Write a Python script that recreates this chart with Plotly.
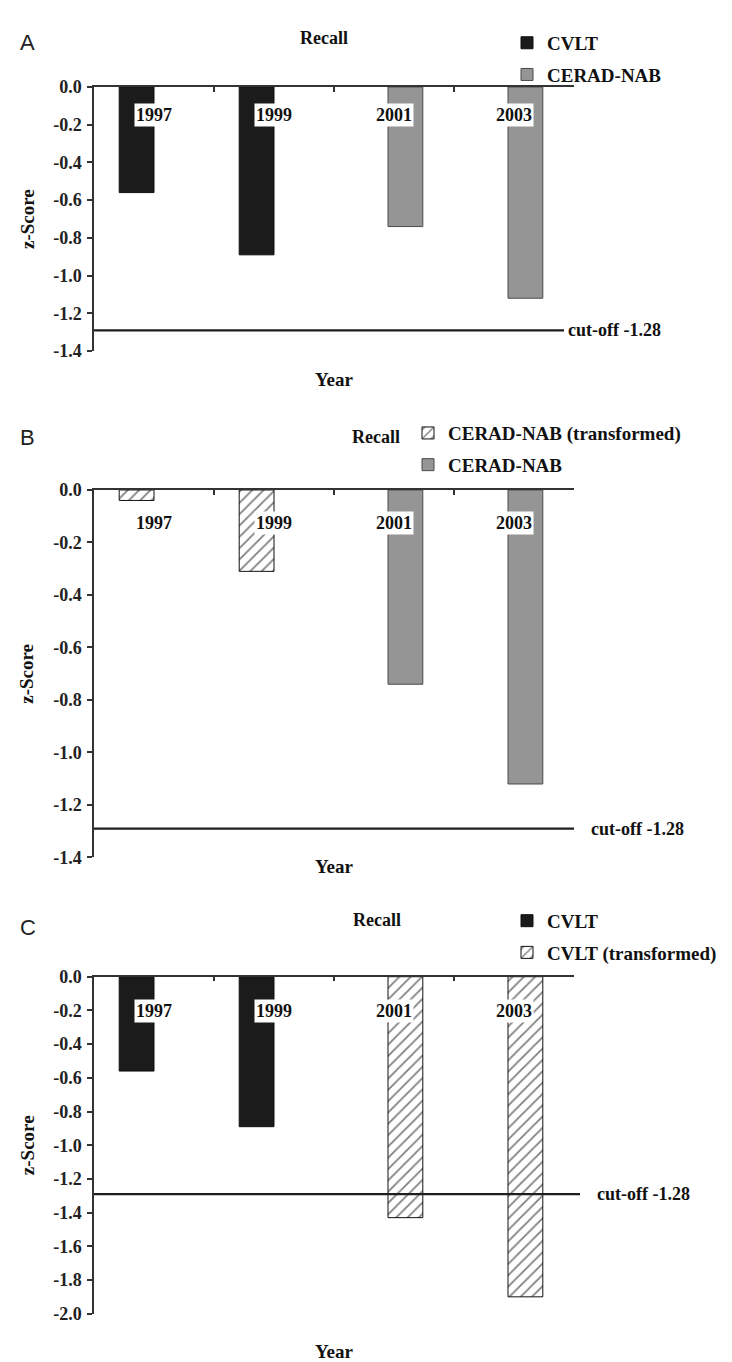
import plotly.graph_objects as go

# ---------------- data ----------------
years = ["1997", "1999", "2001", "2003"]
y_ticks_ab = [0.0, -0.2, -0.4, -0.6, -0.8, -1.0, -1.2, -1.4]
y_ticktext_ab = ["0.0", "-0.2", "-0.4", "-0.6", "-0.8", "-1.0", "-1.2", "-1.4"]
y_ticks_c = [0.0, -0.2, -0.4, -0.6, -0.8, -1.0, -1.2, -1.4, -1.6, -1.8, -2.0]
y_ticktext_c = ["0.0", "-0.2", "-0.4", "-0.6", "-0.8", "-1.0", "-1.2", "-1.4", "-1.6", "-1.8", "-2.0"]

a_cvlt = [-0.56, -0.89, None, None]
a_cerad = [None, None, -0.74, -1.12]
b_cerad_trans = [-0.04, -0.31, None, None]
b_cerad = [None, None, -0.74, -1.12]
c_cvlt = [-0.56, -0.89, None, None]
c_cvlt_trans = [None, None, -1.43, -1.90]

cutoff_value = -1.29
cutoff_label = "cut-off -1.28"
panel_letters = ["A", "B", "C"]
panel_title = "Recall"
x_title = "Year"
y_title = "z-Score"

# ---------------- layout helpers ----------------
W, H = 732, 1362
SERIF = "Liberation Serif"
SANS = "Liberation Sans"


def px_x(p):
    return p / W


def px_y(p):
    return 1 - p / H


xs = list(range(len(years)))
BAR_W = 0.29
OFF1 = -0.29
OFF2 = -0.05

fig = go.Figure()

BLACK = "#1b1b1b"
GRAY = "#959595"
GRAY_LINE = "#4a4a4a"

hatch = dict(shape="/", fgcolor="#000000", bgcolor="white", size=8, solidity=0.22)


def add_bar(vals, name, panel, legend, first, style):
    xa = "x" if panel == 1 else f"x{panel}"
    ya = "y" if panel == 1 else f"y{panel}"
    kw = dict(x=xs, y=vals, name=name, xaxis=xa, yaxis=ya, legend=legend,
              legendgroup=f"{legend}_{name}",
              offset=OFF1 if first else OFF2, width=BAR_W)
    if style == "black":
        kw["marker"] = dict(color=BLACK, line=dict(color="#111111", width=1))
    elif style == "gray":
        kw["marker"] = dict(color=GRAY, line=dict(color=GRAY_LINE, width=1))
    else:
        kw["marker"] = dict(color="white", pattern=hatch, line=dict(color="#111111", width=1))
    fig.add_trace(go.Bar(**kw))


add_bar(a_cvlt, "CVLT", 1, "legend", True, "black")
add_bar(a_cerad, "CERAD-NAB", 1, "legend", False, "gray")
add_bar(b_cerad_trans, "CERAD-NAB (transformed)", 2, "legend2", True, "hatch")
add_bar(b_cerad, "CERAD-NAB", 2, "legend2", False, "gray")
add_bar(c_cvlt, "CVLT", 3, "legend3", True, "black")
add_bar(c_cvlt_trans, "CVLT (transformed)", 3, "legend3", False, "hatch")

# panel geometry in pixels: (x_left, x_right, y_top, y_bottom)
panels = [
    (86, 566, 70, 338, [-1.4, 0], y_ticks_ab, y_ticktext_ab),
    (86, 566, 479, 852, [-1.4, 0], y_ticks_ab, y_ticktext_ab),
    (86, 566, 973, 1315, [-2.0, 0], y_ticks_c, y_ticktext_c),
]

tickfont = dict(family=SERIF, size=18, color="#222222", weight="bold")
layout_axes = {}
for i, (xl, xr, yt, yb, rng, tv, tt) in enumerate(panels, start=1):
    sx = "" if i == 1 else str(i)
    layout_axes[f"xaxis{sx}"] = dict(
        domain=[px_x(xl), px_x(xr)], range=[-0.5, 3.5], anchor=f"y{sx}",
        side="top", showline=True, linecolor="#333333", linewidth=1.5,
        ticks="inside", ticklen=5, tickwidth=1.5, tickcolor="#333333",
        tickvals=[0.5, 1.5, 2.5, 3.5], showticklabels=False,
        showgrid=False, zeroline=False, fixedrange=True,
    )
    layout_axes[f"yaxis{sx}"] = dict(
        domain=[px_y(yb), px_y(yt)], range=rng, anchor=f"x{sx}",
        showline=True, linecolor="#333333", linewidth=1.5,
        ticks="outside", ticklen=5, tickwidth=1.5, tickcolor="#333333",
        tickvals=tv, ticktext=tt, tickfont=tickfont, ticklabelstandoff=2,
        showgrid=False, zeroline=False, fixedrange=True,
    )

fig.update_layout(**layout_axes)

annotations = []
shapes = []
label_shift = [28, 33, 34]
title_pos = [(316, 20), (368, 425), (369, 915)]
letter_pos = [(10, 25), (10, 426), (10, 923)]
year_title_y = [367, 861, 1353]
cut_line_end = [556, 566, 572]
cut_label_x = [558, 581, 587]

for i, (xl, xr, yt, yb, rng, tv, tt) in enumerate(panels, start=1):
    sx = "" if i == 1 else str(i)
    xa = f"x{sx}"
    ya = f"y{sx}"
    # year labels with white boxes
    for k, yr in enumerate(years):
        annotations.append(dict(
            x=xs[k], y=0, xref=xa, yref=ya, text=yr, showarrow=False,
            yshift=-label_shift[i - 1], bgcolor="white", borderpad=1,
            font=dict(family=SERIF, size=18, color="#111111", weight="bold"),
        ))
    # cutoff line
    shapes.append(dict(
        type="line", xref="paper", yref=ya,
        x0=px_x(xl), x1=px_x(cut_line_end[i - 1]),
        y0=cutoff_value, y1=cutoff_value,
        line=dict(color="#1e1e1e", width=2.2),
    ))
    annotations.append(dict(
        x=px_x(cut_label_x[i - 1]), y=cutoff_value, xref="paper", yref=ya,
        xanchor="left", yanchor="middle", text=cutoff_label, showarrow=False,
        font=dict(family=SERIF, size=18, color="#111111", weight="bold"),
    ))
    # panel title
    tx, ty = title_pos[i - 1]
    annotations.append(dict(
        x=px_x(tx), y=px_y(ty), xref="paper", yref="paper", text=panel_title,
        showarrow=False, xanchor="center", yanchor="middle",
        font=dict(family=SERIF, size=18, color="#111111", weight="bold"),
    ))
    # panel letter
    lx, ly = letter_pos[i - 1]
    annotations.append(dict(
        x=px_x(lx), y=px_y(ly), xref="paper", yref="paper", text=panel_letters[i - 1],
        showarrow=False, xanchor="left", yanchor="middle",
        font=dict(family=SANS, size=22, color="#222222"),
    ))
    # axis titles
    annotations.append(dict(
        x=px_x(326), y=px_y(year_title_y[i - 1]), xref="paper", yref="paper",
        text=x_title, showarrow=False, xanchor="center", yanchor="middle",
        font=dict(family=SERIF, size=19, color="#111111", weight="bold"),
    ))
    annotations.append(dict(
        x=px_x(19), y=px_y((yt + yb) / 2), xref="paper", yref="paper",
        text=y_title, showarrow=False, textangle=-90, xanchor="center", yanchor="middle",
        font=dict(family=SERIF, size=19, color="#111111", weight="bold"),
    ))

legend_font = dict(family=SERIF, size=19, color="#111111", weight="bold")
leg_common = dict(font=legend_font, bgcolor="rgba(0,0,0,0)", xanchor="left", yanchor="top",
                  traceorder="grouped", tracegroupgap=4, itemwidth=30)

fig.update_layout(
    width=W, height=H,
    margin=dict(l=0, r=0, t=0, b=0),
    paper_bgcolor="white", plot_bgcolor="white",
    barmode="overlay",
    showlegend=True,
    legend=dict(x=px_x(499), y=px_y(6), **leg_common),
    legend2=dict(x=px_x(400), y=px_y(402), **leg_common),
    legend3=dict(x=px_x(499), y=px_y(897), **leg_common),
    annotations=annotations,
    shapes=shapes,
)

fig.write_html("out.html")
